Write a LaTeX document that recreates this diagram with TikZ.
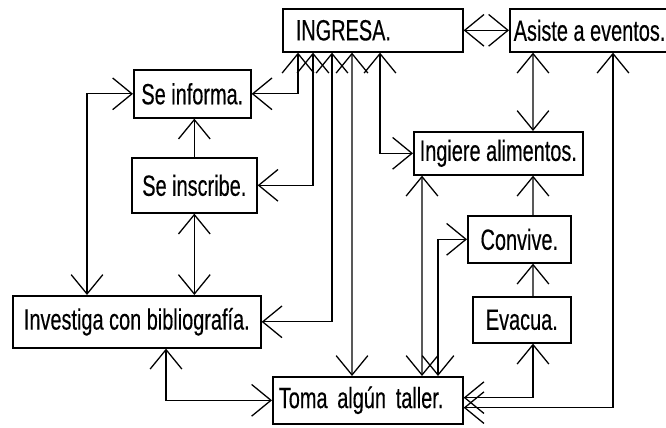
\documentclass[tikz,border=0pt]{standalone}
\usepackage{fontspec}
\setmainfont{Liberation Sans}[FakeStretch=0.68,FakeBold=0.3]
\usepackage{tikz}
\usetikzlibrary{positioning,arrows.meta}

\begin{document}
\begin{tikzpicture}[
    x=0.03cm, y=-0.03cm,
    >={Straight Barb[length=0.58cm,width=0.95cm]},
    box/.style={rectangle, draw, line width=1.4pt, anchor=north west,
        inner ysep=0pt, font=\fontsize{25}{28}\selectfont},
    arrow/.style={->, line width=1.1pt},
    darrow/.style={<->, line width=1.1pt}
]
\useasboundingbox (0,0) rectangle (666,428);
\node[box, minimum width=5.4cm, minimum height=1.29cm, text width=4.62cm, inner xsep=0.39cm, align=left] (ingresa) at (282,8) {INGRESA.};
\node[box, minimum width=4.68cm, minimum height=1.29cm] (asiste) at (509,8) {Asiste a eventos.};
\node[box, minimum width=3.51cm, minimum height=1.44cm] (informa) at (133,69) {Se informa.};
\node[box, minimum width=3.75cm, minimum height=1.65cm] (inscribe) at (131,157) {Se inscribe.};
\node[box, minimum width=5.07cm, minimum height=1.29cm] (ingiere) at (413,131) {Ingiere alimentos.};
\node[box, minimum width=3.09cm, minimum height=1.41cm] (convive) at (467,215) {Convive.};
\node[box, minimum width=2.94cm, minimum height=1.38cm] (evacua) at (472,296) {Evacua.};
\node[box, minimum width=7.44cm, minimum height=1.56cm] (investiga) at (12,295) {Investiga con bibliografía.};
\node[box, minimum width=5.7cm, minimum height=1.41cm, text width=5.34cm, inner xsep=0.18cm, align=left] (toma) at (272,376) {Toma algún taller.};
\draw[darrow] (ingresa.east) -- (asiste.west);
\draw[darrow] ([xshift=0.48cm]ingresa.south west) |- (informa.east);
\draw[darrow] ([xshift=0.93cm]ingresa.south west) |- (inscribe.east);
\draw[darrow] ([xshift=1.5cm]ingresa.south west) |- (investiga.east);
\draw[darrow] ([xshift=2.1cm]ingresa.south west) -- ([xshift=2.4cm]toma.north west);
\draw[darrow] ([xshift=2.94cm]ingresa.south west) |- (ingiere.west);
\draw[darrow] (informa.west) -| ([xshift=2.25cm]investiga.north west);
\draw[arrow] (inscribe.north) -- (inscribe.north |- informa.south);
\draw[darrow] (inscribe.south) -- (inscribe.south |- investiga.north);
\draw[darrow] ([xshift=4.62cm]investiga.south west) |- (toma.west);
\draw[darrow] ([xshift=0.72cm]asiste.south west) -- ([xshift=3.6cm]ingiere.north west);
\draw[arrow] ([xshift=1.83cm]evacua.north west) -- ([xshift=1.98cm]convive.south west);
\draw[arrow] ([xshift=1.98cm]convive.north west) -- ([xshift=3.6cm]ingiere.south west);
\draw[darrow] ([xshift=1.83cm]evacua.south west) |- ([yshift=0.08cm]toma.east);
\draw[darrow] ([yshift=-0.22cm]toma.east) -| ([xshift=3.12cm]asiste.south west);
\draw[darrow] ([xshift=0.27cm]ingiere.south west) -- ([xshift=4.5cm]toma.north west);
\draw[darrow] ([xshift=4.98cm]toma.north west) |- (convive.west);
\end{tikzpicture}
\end{document}
